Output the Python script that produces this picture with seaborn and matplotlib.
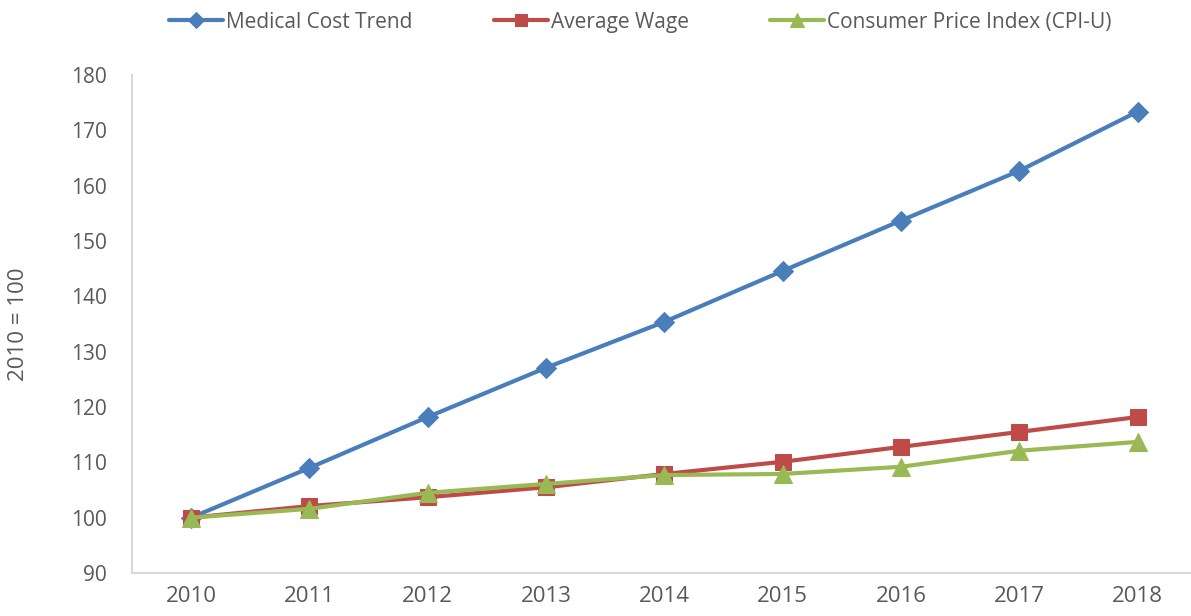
import pandas as pd
import numpy as np
import matplotlib
matplotlib.use('Agg')
import matplotlib.pyplot as plt
import seaborn as sns

# Data
years = ['2010', '2011', '2012', '2013', '2014', '2015', '2016', '2017', '2018']
medical_cost = [100.0, 109.0, 118.2, 127.1, 135.4, 144.6, 153.7, 162.7, 173.4]
average_wage = [100.0, 102.1, 103.7, 105.5, 107.9, 110.1, 112.8, 115.5, 118.2]
cpi_u = [100.0, 101.6, 104.5, 106.1, 107.7, 107.9, 109.2, 112.1, 113.7]

series_names = ['Medical Cost Trend', 'Average Wage', 'Consumer Price Index (CPI-U)']
colors = ['#4a7ebb', '#be4b48', '#98b954']
markers = ['D', 's', '^']
marker_sizes = [10, 11, 13]

sns.set_style('white')
plt.rcParams['font.family'] = ['Open Sans', 'DejaVu Sans']

fig = plt.figure(figsize=(11.91, 6.16), dpi=100)
ax = fig.add_axes([0.1108, 0.0698, 0.8892, 0.8084])

x = np.arange(len(years))
for name, vals, c, m, ms in zip(series_names, [medical_cost, average_wage, cpi_u],
                                colors, markers, marker_sizes):
    sns.lineplot(x=x, y=vals, ax=ax, color=c, marker=m, markersize=ms,
                 markeredgecolor=c, linewidth=3, label=name)

ax.set_xlim(-0.5, 8.45)
ax.set_ylim(90, 180)
ax.set_yticks(range(90, 181, 10))
ax.set_xticks(x)
ax.set_xticklabels(years)
ax.tick_params(axis='both', length=0, colors='#595959', labelsize=15)
ax.tick_params(axis='x', pad=9)
ax.tick_params(axis='y', pad=18)
for lab in ax.get_xticklabels():
    lab.set_fontsize(16)

for side in ['top', 'right']:
    ax.spines[side].set_visible(False)
for side in ['left', 'bottom']:
    ax.spines[side].set_color('#d9d9d9')
    ax.spines[side].set_linewidth(1.5)

ax.set_ylabel('2010 = 100', fontsize=16, color='#595959')
ax.yaxis.set_label_coords(-0.097, 0.5)
ax.set_xlabel('')

leg = ax.legend(loc='upper center', bbox_to_anchor=(0.48, 1.165), ncol=3,
                frameon=False, fontsize=15, handlelength=2.6, columnspacing=3.9,
                handletextpad=0.15, markerscale=0.8)
for t in leg.get_texts():
    t.set_color('#595959')

fig.savefig('out.png', dpi=100)
